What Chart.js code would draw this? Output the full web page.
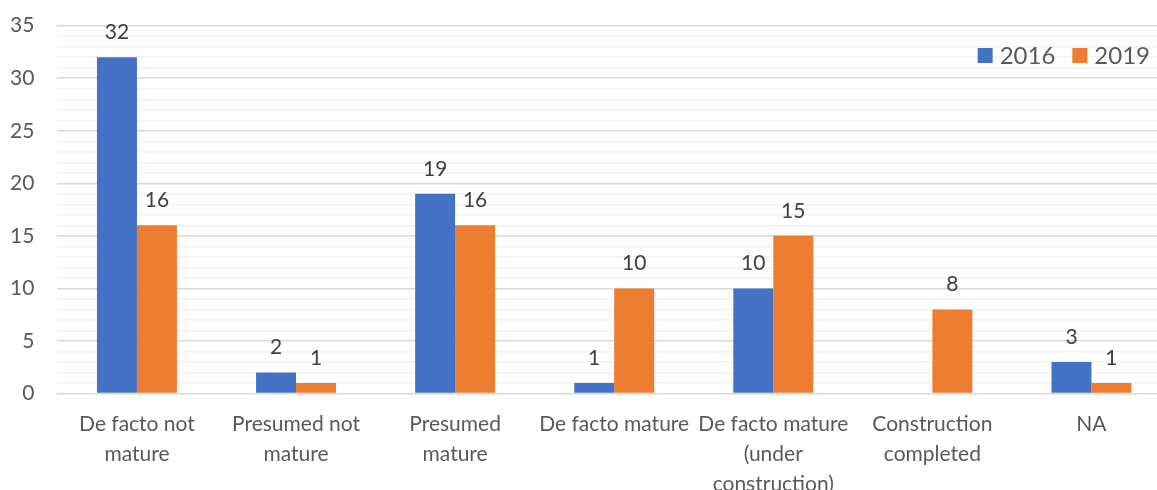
<!DOCTYPE html>
<html>
<head>
<meta charset="utf-8">
<script src="https://cdn.jsdelivr.net/npm/chart.js@4/dist/chart.umd.min.js"></script>
<style>
  html, body { margin: 0; padding: 0; background: #fff; overflow: hidden; }
  #wrap { width: 1157px; height: 490px; overflow: hidden; }
</style>
</head>
<body>
<div id="wrap"><canvas id="myChart" width="1200" height="490"></canvas></div>
<script>
const categories = [
    ["De facto not", "mature"],
    ["Presumed not", "mature"],
    ["Presumed", "mature"],
    ["De facto mature"],
    ["De facto mature", "(under", "construction)"],
    ["Construction", "completed"],
    ["NA"]
];
const values2016 = [32, 2, 19, 1, 10, null, 3];
const values2019 = [16, 1, 16, 10, 15, 8, 1];
const seriesNames = ["2016", "2019"];
const yTicks = [0, 5, 10, 15, 20, 25, 30, 35];

const FONT = "Lato, 'Open Sans', sans-serif";

// numbers above the bars
const barLabels = {
    id: "barLabels",
    afterDatasetsDraw(chart) {
        const ctx = chart.ctx;
        ctx.save();
        ctx.font = "21px " + FONT;
        ctx.fillStyle = "#404040";
        ctx.textAlign = "center";
        ctx.textBaseline = "alphabetic";
        chart.data.datasets.forEach((ds, i) => {
            chart.getDatasetMeta(i).data.forEach((bar, j) => {
                if (ds.data[j] == null) return;
                ctx.fillText(ds.data[j], bar.x, bar.y - 18);
            });
        });
        ctx.restore();
    }
};

// legend in the top right, inside the plot
const cornerLegend = {
    id: "cornerLegend",
    afterDraw(chart) {
        const ctx = chart.ctx;
        ctx.save();
        ctx.font = "24px " + FONT;
        ctx.textBaseline = "middle";
        let x = 1150;
        const y = 56;
        const items = chart.data.datasets.slice().reverse();
        items.forEach(ds => {
            const w = ctx.measureText(ds.label).width;
            x -= w;
            ctx.fillStyle = "#595959";
            ctx.fillText(ds.label, x, y);
            x -= 22;
            ctx.fillStyle = ds.backgroundColor;
            ctx.fillRect(x, y - 8, 15, 15);
            x -= 17;
        });
        ctx.restore();
    }
};

const ctx = document.getElementById("myChart").getContext("2d");
new Chart(ctx, {
    type: "bar",
    data: {
        labels: categories,
        datasets: [
            { label: seriesNames[0], data: values2016, backgroundColor: "#4472C4" },
            { label: seriesNames[1], data: values2019, backgroundColor: "#ED7D31" }
        ]
    },
    options: {
        responsive: false,
        animation: false,
        layout: { padding: { left: 0.4, right: 29, top: 25.7, bottom: 0 } },
        datasets: {
            bar: { categoryPercentage: 0.5025, barPercentage: 1 }
        },
        plugins: {
            legend: { display: false },
            tooltip: { enabled: false }
        },
        scales: {
            x: {
                grid: { display: false, drawTicks: false },
                border: { display: false },
                ticks: {
                    color: "#595959",
                    font: { family: FONT, size: 21, lineHeight: 1.43 },
                    padding: 16,
                    maxRotation: 0,
                    autoSkip: false
                },
                afterFit(scale) {
                    scale.height = 96.5;
                    scale.paddingLeft = 0;
                    scale.paddingRight = 0;
                }
            },
            y: {
                min: 0,
                max: 35,
                grid: {
                    drawTicks: false,
                    lineWidth: 1.5,
                    color: c => (yTicks.includes(c.tick.value) ? "#d9d9d9" : "#f2f2f2")
                },
                border: { display: false },
                ticks: {
                    stepSize: 1,
                    autoSkip: false,
                    color: "#595959",
                    font: { family: FONT, size: 21 },
                    padding: 23,
                    callback: v => (yTicks.includes(v) ? v : "")
                },
                afterFit(scale) {
                    scale.width = 57;
                    scale.paddingTop = 0;
                    scale.paddingBottom = 0;
                }
            }
        }
    },
    plugins: [barLabels, cornerLegend]
});
</script>
</body>
</html>
